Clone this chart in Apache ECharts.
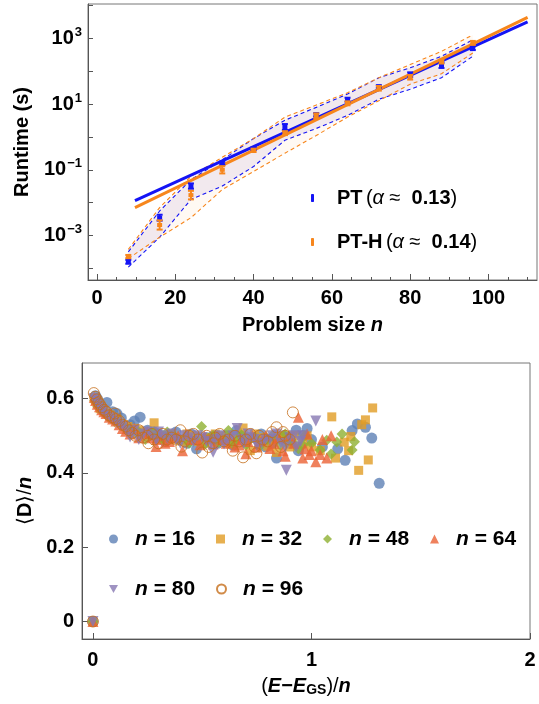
<!DOCTYPE html>
<html><head><meta charset="utf-8">
<script src="https://cdn.jsdelivr.net/npm/echarts@6/dist/echarts.min.js"></script>
<style>html,body{margin:0;padding:0;background:#fff}#c{width:539px;height:704px}</style>
</head><body><div id="c"></div>
<script>
// ---------- Top panel data ----------
const sizes = [8,16,24,32,40,48,56,64,72,80,88,96];
const ptMean = [1.6e-4, 3.5e-3, 0.032, 0.16, 0.44, 2.0, 4.7, 13.5, 34, 78, 150, 500];
const phMean = [2.3e-4, 2.1e-3, 0.017, 0.10, 0.39, 1.3, 4.3, 10.5, 30, 65, 195, 720];
// error-bar half widths (decades)
const ptErr = [0.06,0.09,0.08,0.05,0.04,0.09,0.05,0.06,0.04,0.07,0.08,0.06];
const phErr = [0.05,0.14,0.13,0.11,0.05,0.06,0.08,0.06,0.07,0.07,0.06,0.06];
// envelopes (s)
const ptUpper = [3.2e-4, 5.6e-3, 0.050, 0.20, 0.89, 3.2, 7.9, 20, 63, 126, 282, 891];
const ptLower = [1.1e-4, 8.9e-4, 0.0126, 0.032, 0.126, 0.79, 1.8, 4.5, 14, 28, 63, 282];
const phUpper = [3.8e-4, 7.1e-3, 0.063, 0.24, 0.89, 4.0, 9.3, 22, 63, 158, 398, 1260];
const phLower = [2.0e-4, 8.9e-4, 3.5e-3, 0.025, 0.089, 0.32, 1.1, 4.0, 12.6, 40, 83, 355];
// fitted lines (end points)
const ptFit = [[9.7, 0.0115], [110, 3160]];
const phFit = [[9.7, 0.0071], [110, 4270]];
const topXLabels = [0,20,40,60,80,100];
const topXMinor = [5,10,15,25,30,35,45,50,55,65,70,75,85,90,95,105,110];
const topYTicks = [1e-4,1e-3,1e-2,1e-1,1,10,100,1000,1e4];
const topYLabels = [1e-3,1e-1,10,1000];

// ---------- Bottom panel data ----------
const n16 = [[0,0],[0.012,0.608],[0.064,0.59],[0.04,0.575],[0.09,0.565],[0.13,0.548],[0.216,0.55],[0.17,0.53],[0.25,0.515],[0.3,0.505],[0.35,0.498],[0.4,0.49],[0.474,0.465],[0.45,0.505],[0.52,0.495],[0.57,0.48],[0.61,0.5],[0.657,0.514],[0.7,0.483],[0.74,0.495],[0.79,0.47],[0.84,0.44],[0.87,0.5],[0.9,0.48],[0.93,0.515],[0.96,0.5],[1.0,0.49],[1.05,0.47],[1.12,0.465],[1.154,0.434],[1.186,0.514],[1.21,0.532],[1.247,0.523],[1.276,0.494],[1.31,0.372],
  [0.02,0.6],[0.11,0.56],[0.19,0.54],[0.28,0.51],[0.33,0.485],[0.38,0.51],[0.43,0.48],[0.55,0.5],[0.64,0.475],[0.68,0.5],[0.77,0.505],[0.82,0.48],[0.94,0.46],[0.98,0.52]];
const n32 = [[0,0],[0.006,0.6],[0.02,0.588],[0.033,0.573],[0.05,0.568],[0.08,0.556],[0.11,0.545],[0.14,0.53],[0.19,0.52],[0.23,0.51],[0.28,0.535],[0.33,0.5],[0.38,0.49],[0.43,0.505],[0.48,0.485],[0.53,0.495],[0.58,0.5],[0.63,0.478],[0.687,0.521],[0.66,0.492],[0.72,0.46],[0.76,0.483],[0.8,0.472],[0.84,0.455],[0.88,0.49],[0.92,0.5],[0.96,0.478],[1.0,0.47],[1.04,0.46],[1.093,0.551],[1.11,0.44],[1.15,0.483],[1.17,0.46],[1.18,0.498],[1.216,0.407],[1.23,0.53],[1.247,0.543],[1.26,0.435],[1.28,0.575],
  [0.012,0.595],[0.065,0.56],[0.095,0.55],[0.16,0.525],[0.21,0.515],[0.26,0.505],[0.31,0.49],[0.36,0.505],[0.41,0.485],[0.46,0.5],[0.51,0.48],[0.56,0.505],[0.61,0.49],[0.7,0.49],[0.74,0.505],[0.78,0.495],[0.82,0.49],[0.86,0.5],[0.9,0.47],[0.98,0.5]];
const n48 = [[0,0],[0.008,0.595],[0.022,0.578],[0.04,0.566],[0.07,0.55],[0.1,0.538],[0.13,0.527],[0.17,0.518],[0.21,0.51],[0.26,0.503],[0.3,0.495],[0.34,0.51],[0.39,0.49],[0.44,0.48],[0.497,0.525],[0.53,0.494],[0.57,0.48],[0.62,0.514],[0.66,0.49],[0.7,0.475],[0.74,0.496],[0.78,0.485],[0.82,0.5],[0.86,0.474],[0.9,0.49],[0.94,0.465],[0.97,0.5],[1.0,0.48],[1.04,0.462],[1.07,0.488],[1.09,0.451],[1.116,0.483],[1.14,0.505],[1.186,0.462],[1.197,0.484],
  [0.015,0.59],[0.03,0.575],[0.055,0.56],[0.085,0.545],[0.115,0.535],[0.15,0.52],[0.19,0.505],[0.24,0.49],[0.28,0.51],[0.32,0.49],[0.37,0.5],[0.42,0.495],[0.47,0.49],[0.51,0.475],[0.55,0.5],[0.6,0.49],[0.64,0.478],[0.68,0.502],[0.72,0.49],[0.76,0.47],[0.8,0.49],[0.84,0.49],[0.88,0.505],[0.92,0.48],[0.96,0.475]];
const n64 = [[0,0],[0.006,0.604],[0.02,0.585],[0.04,0.57],[0.06,0.56],[0.09,0.545],[0.12,0.53],[0.15,0.512],[0.19,0.52],[0.23,0.505],[0.289,0.471],[0.27,0.495],[0.31,0.5],[0.35,0.485],[0.39,0.5],[0.41,0.46],[0.45,0.49],[0.49,0.476],[0.53,0.492],[0.57,0.5],[0.61,0.48],[0.65,0.47],[0.7,0.452],[0.68,0.49],[0.73,0.5],[0.77,0.486],[0.81,0.466],[0.85,0.495],[0.88,0.445],[0.9,0.5],[0.94,0.55],[0.96,0.44],[0.98,0.505],[1.0,0.46],[1.02,0.43],[1.05,0.49],[1.07,0.44],[1.09,0.5],
  [0.012,0.595],[0.03,0.578],[0.05,0.565],[0.075,0.55],[0.105,0.54],[0.135,0.52],[0.17,0.505],[0.21,0.495],[0.25,0.51],[0.29,0.49],[0.33,0.48],[0.37,0.495],[0.43,0.505],[0.47,0.49],[0.51,0.5],[0.55,0.478],[0.59,0.49],[0.63,0.5],[0.67,0.475],[0.71,0.485],[0.75,0.47],[0.79,0.5],[0.83,0.48],[0.87,0.46],[0.92,0.48],[0.97,0.465],[0.99,0.45],[1.04,0.45]];
const n80 = [[0,0],[0.005,0.6],[0.015,0.59],[0.03,0.576],[0.05,0.566],[0.08,0.55],[0.11,0.536],[0.14,0.525],[0.17,0.497],[0.19,0.515],[0.23,0.505],[0.27,0.5],[0.3,0.51],[0.34,0.494],[0.38,0.49],[0.42,0.5],[0.46,0.485],[0.5,0.495],[0.55,0.456],[0.54,0.48],[0.58,0.5],[0.62,0.49],[0.66,0.52],[0.69,0.48],[0.72,0.495],[0.75,0.475],[0.79,0.49],[0.82,0.5],[0.86,0.48],[0.885,0.407],[0.9,0.495],[0.93,0.47],[0.96,0.5],[1.02,0.54],
  [0.01,0.595],[0.022,0.585],[0.04,0.57],[0.065,0.557],[0.095,0.545],[0.125,0.53],[0.155,0.515],[0.21,0.49],[0.25,0.51],[0.29,0.488],[0.32,0.5],[0.36,0.505],[0.4,0.48],[0.44,0.495],[0.48,0.5],[0.52,0.485],[0.56,0.49],[0.6,0.478],[0.64,0.5],[0.68,0.49],[0.71,0.505],[0.74,0.49],[0.77,0.48],[0.81,0.49],[0.84,0.505],[0.88,0.47],[0.92,0.5],[0.95,0.485]];
const n96 = [[0,0],[0.004,0.615],[0.01,0.605],[0.025,0.59],[0.04,0.577],[0.06,0.565],[0.09,0.55],[0.1,0.56],[0.12,0.54],[0.15,0.525],[0.18,0.508],[0.21,0.515],[0.254,0.48],[0.25,0.5],[0.28,0.49],[0.32,0.505],[0.36,0.495],[0.405,0.471],[0.4,0.515],[0.44,0.5],[0.48,0.49],[0.5,0.455],[0.53,0.47],[0.56,0.495],[0.6,0.485],[0.64,0.46],[0.65,0.5],[0.687,0.442],[0.7,0.49],[0.748,0.453],[0.76,0.5],[0.8,0.485],[0.82,0.51],[0.84,0.523],[0.86,0.47],[0.88,0.5],[0.915,0.563],
  [0.018,0.598],[0.032,0.585],[0.05,0.57],[0.075,0.555],[0.105,0.545],[0.135,0.53],[0.165,0.515],[0.195,0.5],[0.23,0.495],[0.27,0.505],[0.3,0.48],[0.34,0.49],[0.38,0.49],[0.42,0.485],[0.46,0.505],[0.52,0.5],[0.55,0.48],[0.58,0.505],[0.62,0.49],[0.67,0.485],[0.72,0.505],[0.74,0.47],[0.78,0.49],[0.9,0.49],[0.87,0.51]];
const botXLabels = [0,1,2];
const botYLabels = [0,0.2,0.4,0.6];

// ---------- styling ----------
const FONT = '"Liberation Sans", Arial, sans-serif';
const BLUE = '#1414f5';
const ORANGE = '#f7861c';
const AX = '#555';

function bandRender(up, lo, fill) {
  return function (params, api) {
    if (params.dataIndex !== 0) return null;
    const pts = [];
    for (let i = 0; i < sizes.length; i++) pts.push(api.coord([sizes[i], up[i]]));
    for (let i = sizes.length - 1; i >= 0; i--) pts.push(api.coord([sizes[i], lo[i]]));
    return { type: 'polygon', shape: { points: pts }, style: { fill: fill } };
  };
}
function errRender(color) {
  return function (params, api) {
    const x = api.value(0);
    const pm = api.coord([x, api.value(1)]);
    const p1 = api.coord([x, api.value(2)]);
    const p2 = api.coord([x, api.value(3)]);
    const st = { stroke: color, lineWidth: 2 };
    return { type: 'group', children: [
      { type: 'line', shape: { x1: p1[0], y1: p1[1], x2: p2[0], y2: p2[1] }, style: st },
      { type: 'line', shape: { x1: p1[0] - 3, y1: p1[1], x2: p1[0] + 3, y2: p1[1] }, style: st },
      { type: 'line', shape: { x1: p2[0] - 3, y1: p2[1], x2: p2[0] + 3, y2: p2[1] }, style: st },
      { type: 'rect', shape: { x: pm[0] - 2.5, y: pm[1] - 2, width: 5, height: 4 }, style: { fill: color } }
    ]};
  };
}
const errData = (mean, err) => sizes.map((n, i) => [n, mean[i], mean[i] / Math.pow(10, err[i]), mean[i] * Math.pow(10, err[i])]);
const pairs = (arr) => sizes.map((n, i) => [n, arr[i]]);

const lblStyle = { color: '#000', fontFamily: FONT, fontSize: 20, fontWeight: 'bold' };
const nameStyle = { color: '#000', fontFamily: FONT, fontSize: 20, fontWeight: 'bold' };

const chart = echarts.init(document.getElementById('c'), null, { renderer: 'canvas' });
chart.setOption({
  animation: false,
  backgroundColor: '#fff',
  grid: [
    { left: 88, top: 4, width: 449, height: 276, show: true, borderColor: '#777', borderWidth: 1, containLabel: false },
    { left: 82, top: 363, width: 448, height: 276, show: true, borderColor: '#777', borderWidth: 1, containLabel: false }
  ],
  xAxis: [
    { type: 'value', gridIndex: 0, position: 'bottom', min: -2.3, max: 112.4,
      axisLine: { show: true, onZero: false, lineStyle: { color: AX } },
      axisTick: { show: true, inside: true, length: 6, customValues: topXLabels, lineStyle: { color: AX } },
      axisLabel: Object.assign({ customValues: topXLabels, margin: 8, formatter: v => (v % 20 === 0 ? String(v) : '') }, lblStyle),
      splitLine: { show: false },
      name: '{b|Problem size }{i|n}', nameLocation: 'middle', nameGap: 35,
      nameTextStyle: { rich: { b: nameStyle, i: Object.assign({}, nameStyle, { fontStyle: 'italic' }) } } },
    { type: 'value', gridIndex: 0, position: 'bottom', min: -2.3, max: 112.4,
      axisLine: { show: false, onZero: false },
      axisTick: { show: true, inside: true, length: 3, customValues: topXMinor, lineStyle: { color: AX } },
      axisLabel: { show: false }, splitLine: { show: false } },
    { type: 'value', gridIndex: 1, position: 'bottom', min: -0.05, max: 2.0,
      axisLine: { show: true, onZero: false, lineStyle: { color: AX } },
      axisTick: { show: true, inside: true, length: 6, customValues: botXLabels, lineStyle: { color: AX } },
      axisLabel: Object.assign({ customValues: botXLabels, margin: 11, formatter: v => String(v) }, lblStyle),
      splitLine: { show: false },
      name: '{r|(}{i|E}{b|−}{i|E}{s|GS}{r|)/}{i|n}', nameLocation: 'middle', nameGap: 36,
      nameTextStyle: { rich: {
        r: Object.assign({}, nameStyle, { fontWeight: 'normal' }),
        b: nameStyle,
        i: Object.assign({}, nameStyle, { fontStyle: 'italic' }),
        s: Object.assign({}, nameStyle, { fontSize: 14, padding: [8, 0, 0, 0] })
      } } }
  ],
  yAxis: [
    { type: 'log', logBase: 10, gridIndex: 0, min: Math.pow(10, -4.35), max: Math.pow(10, 4.04),
      axisLine: { show: true, onZero: false, lineStyle: { color: AX } },
      axisTick: { show: true, inside: true, length: 5, customValues: topYTicks, lineStyle: { color: AX } },
      axisLabel: {
        customValues: topYLabels, margin: 6,
        formatter: function (v) {
          const e = Math.round(Math.log10(v));
          if (Math.abs(Math.log10(v) - e) > 1e-6 || e % 2 === 0) return '';
          return '{b|10}{s|' + (e < 0 ? '−' + (-e) : e) + '}';
        },
        rich: {
          b: { color: '#000', fontFamily: FONT, fontSize: 20, fontWeight: 'bold' },
          s: { color: '#000', fontFamily: FONT, fontSize: 13, fontWeight: 'bold', padding: [0, 0, 12, 1] }
        }
      },
      splitLine: { show: false },
      name: 'Runtime (s)', nameLocation: 'middle', nameGap: 56, nameTextStyle: nameStyle },
    { type: 'value', gridIndex: 1, min: -0.047, max: 0.696,
      axisLine: { show: true, onZero: false, lineStyle: { color: AX } },
      axisTick: { show: true, inside: true, length: 6, customValues: botYLabels, lineStyle: { color: AX } },
      axisLabel: Object.assign({ customValues: botYLabels, margin: 8, formatter: v => (v === 0 ? '0' : v.toFixed(1)) }, lblStyle),
      splitLine: { show: false },
      name: '{r|⟨}{b|D}{r|⟩/}{i|n}', nameLocation: 'middle', nameGap: 31,
      nameTextStyle: { rich: {
        r: Object.assign({}, nameStyle, { fontWeight: 'normal' }),
        b: nameStyle,
        i: Object.assign({}, nameStyle, { fontStyle: 'italic' })
      } } }
  ],
  legend: [
    { orient: 'vertical', left: 306, top: 181, itemGap: 20, itemWidth: 3, itemHeight: 8,
      data: [{ name: 'PT', icon: 'roundRect' }, { name: 'PT-H', icon: 'roundRect' }],
      formatter: function (name) {
        const a = name === 'PT' ? '0.13' : '0.14';
        return '{b|' + name + '} {r|(}{a|α}{r| ≈  }{b|' + a + '}{r|)}';
      },
      textStyle: { padding: [0, 0, 0, 18], lineHeight: 24, rich: {
        b: { color: '#000', fontFamily: FONT, fontSize: 20, fontWeight: 'bold' },
        r: { color: '#000', fontFamily: FONT, fontSize: 20 },
        a: { color: '#000', fontFamily: FONT, fontSize: 20, fontStyle: 'italic' }
      } } },
    { orient: 'horizontal', left: 104, top: 522, itemGap: 19, itemWidth: 9, itemHeight: 9,
      data: ['n=16', 'n=32', 'n=48', 'n=64'] },
    { orient: 'horizontal', left: 104, top: 572, itemGap: 19, itemWidth: 9, itemHeight: 9,
      data: ['n=80', 'n=96'] }
  ].map((l, k) => k === 0 ? l : Object.assign(l, {
      formatter: name => '{i|n}{t| = ' + name.split('=')[1] + '}',
      textStyle: { width: 62, padding: [0, 0, 0, 12], lineHeight: 24, rich: {
        i: { color: '#000', fontFamily: FONT, fontSize: 21, fontWeight: 'bold', fontStyle: 'italic' },
        t: { color: '#000', fontFamily: FONT, fontSize: 21, fontWeight: 'bold' }
      } } })),
  series: [
    { type: 'custom', name: 'bandPT', xAxisIndex: 0, yAxisIndex: 0, silent: true, z: 1,
      renderItem: bandRender(ptUpper, ptLower, 'rgba(150,125,215,0.13)'), data: pairs(ptUpper) },
    { type: 'custom', name: 'bandPH', xAxisIndex: 0, yAxisIndex: 0, silent: true, z: 1,
      renderItem: bandRender(phUpper, phLower, 'rgba(250,165,90,0.07)'), data: pairs(phUpper) },
    { type: 'line', name: 'ptU', xAxisIndex: 0, yAxisIndex: 0, data: pairs(ptUpper), showSymbol: false, silent: true, z: 2,
      lineStyle: { color: BLUE, width: 1.1, type: [4, 3] } },
    { type: 'line', name: 'ptL', xAxisIndex: 0, yAxisIndex: 0, data: pairs(ptLower), showSymbol: false, silent: true, z: 2,
      lineStyle: { color: BLUE, width: 1.1, type: [4, 3] } },
    { type: 'line', name: 'phU', xAxisIndex: 0, yAxisIndex: 0, data: pairs(phUpper), showSymbol: false, silent: true, z: 2,
      lineStyle: { color: ORANGE, width: 1.1, type: [4, 3] } },
    { type: 'line', name: 'phL', xAxisIndex: 0, yAxisIndex: 0, data: pairs(phLower), showSymbol: false, silent: true, z: 2,
      lineStyle: { color: ORANGE, width: 1.1, type: [4, 3] } },
    { type: 'line', name: 'ptFit', xAxisIndex: 0, yAxisIndex: 0, data: ptFit, showSymbol: false, silent: true, z: 3,
      lineStyle: { color: BLUE, width: 3 } },
    { type: 'line', name: 'phFit', xAxisIndex: 0, yAxisIndex: 0, data: phFit, showSymbol: false, silent: true, z: 3,
      lineStyle: { color: ORANGE, width: 3 } },
    { type: 'custom', name: 'PT', xAxisIndex: 0, yAxisIndex: 0, z: 4, itemStyle: { color: BLUE },
      renderItem: errRender(BLUE), data: errData(ptMean, ptErr), encode: { x: 0, y: [1, 2, 3] } },
    { type: 'custom', name: 'PT-H', xAxisIndex: 0, yAxisIndex: 0, z: 4, itemStyle: { color: ORANGE },
      renderItem: errRender(ORANGE), data: errData(phMean, phErr), encode: { x: 0, y: [1, 2, 3] } },

    { type: 'scatter', name: 'n=16', xAxisIndex: 2, yAxisIndex: 1, data: n16, symbol: 'circle', symbolSize: 11,
      itemStyle: { color: '#5E81B5' } },
    { type: 'scatter', name: 'n=32', xAxisIndex: 2, yAxisIndex: 1, data: n32, symbol: 'rect', symbolSize: 9,
      itemStyle: { color: '#E19C24' } },
    { type: 'scatter', name: 'n=48', xAxisIndex: 2, yAxisIndex: 1, data: n48, symbol: 'diamond', symbolSize: 11,
      itemStyle: { color: '#8FB032' } },
    { type: 'scatter', name: 'n=64', xAxisIndex: 2, yAxisIndex: 1, data: n64, symbol: 'triangle', symbolSize: 11,
      itemStyle: { color: '#EB6235' } },
    { type: 'scatter', name: 'n=80', xAxisIndex: 2, yAxisIndex: 1, data: n80, symbol: 'path://M0,0 L10,0 L5,9 Z', symbolSize: 11,
      itemStyle: { color: '#8778B3' } },
    { type: 'scatter', name: 'n=96', xAxisIndex: 2, yAxisIndex: 1, data: n96, symbol: 'circle', symbolSize: 11,
      itemStyle: { color: 'rgba(255,255,255,0)', borderColor: '#C56E1A', borderWidth: 1 } }
  ]
});
</script>
</body></html>
